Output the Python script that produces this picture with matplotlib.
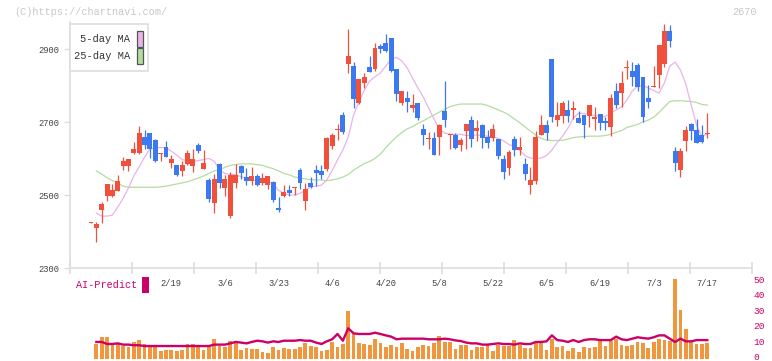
import numpy as np
import matplotlib
matplotlib.use("Agg")
import matplotlib.pyplot as plt
from matplotlib.patches import Rectangle

W, H = 772, 361

RED = "#f0503c"
BLUE = "#3c78f0"
ORANGE = "#f0963c"
MAGENTA = "#cc0066"
PINK = "#e8b4e8"
GREEN = "#b4dca0"
AXIS = "#dddddd"
LABEL = "#555555"
FAINT = "#c8c8c8"
MONO = ["Liberation Mono", "DejaVu Sans Mono"]

# ── daily candles (yen) ──────────────────────────────────────────────────
opens = [2425, 2410, 2460, 2498, 2498, 2513, 2581, 2579, 2617, 2615,
         2660, 2671, 2651, 2612, 2633, 2589, 2583, 2567, 2586, 2581,
         2638, 2573, 2542, 2480, 2586, 2521, 2443, 2535, 2580, 2549,
         2539, 2553, 2535, 2528, 2537, 2466, 2499, 2515, 2521, 2569,
         2485, 2533, 2569, 2567, 2572, 2636, 2679, 2720, 2861, 2854,
         2754, 2809, 2852, 2846, 2909, 2917, 2931, 2846, 2752, 2767,
         2740, 2753, 2682, 2655, 2657, 2660, 2731, 2666, 2665, 2638,
         2676, 2706, 2676, 2693, 2660, 2658, 2654, 2600, 2576, 2654,
         2624, 2586, 2528, 2540, 2665, 2693, 2874, 2706, 2717, 2734,
         2734, 2712, 2720, 2717, 2709, 2723, 2704, 2687, 2786, 2780,
         2849, 2841, 2857, 2824, 2767, 2796, 2830, 2861, 2950, 2621,
         2569, 2649, 2695, 2679, 2665, 2668]
highs = [2426, 2426, 2482, 2531, 2531, 2556, 2606, 2600, 2646, 2690,
         2679, 2671, 2654, 2617, 2649, 2610, 2583, 2594, 2624, 2627,
         2643, 2624, 2547, 2558, 2589, 2556, 2565, 2586, 2583, 2574,
         2578, 2558, 2562, 2553, 2540, 2495, 2528, 2528, 2522, 2574,
         2533, 2551, 2583, 2583, 2659, 2672, 2695, 2728, 2956, 2865,
         2819, 2835, 2882, 2917, 2915, 2941, 2931, 2846, 2786, 2786,
         2778, 2753, 2696, 2673, 2673, 2695, 2813, 2667, 2671, 2656,
         2695, 2717, 2706, 2695, 2679, 2695, 2654, 2610, 2624, 2662,
         2660, 2602, 2578, 2676, 2720, 2706, 2874, 2756, 2757, 2761,
         2758, 2731, 2720, 2747, 2742, 2723, 2715, 2778, 2808, 2841,
         2871, 2865, 2863, 2824, 2802, 2854, 2912, 2969, 2967, 2632,
         2630, 2690, 2698, 2709, 2693, 2725]
lows = [2425, 2373, 2425, 2485, 2494, 2513, 2569, 2567, 2612, 2613,
        2627, 2603, 2591, 2595, 2604, 2575, 2553, 2553, 2583, 2565,
        2615, 2573, 2483, 2451, 2519, 2499, 2439, 2519, 2544, 2528,
        2528, 2525, 2528, 2517, 2483, 2454, 2495, 2499, 2501, 2517,
        2460, 2520, 2525, 2545, 2567, 2626, 2652, 2668, 2834, 2740,
        2750, 2794, 2838, 2841, 2890, 2893, 2838, 2758, 2747, 2728,
        2728, 2706, 2638, 2627, 2610, 2610, 2687, 2628, 2628, 2622,
        2628, 2633, 2650, 2630, 2630, 2650, 2600, 2546, 2556, 2608,
        2610, 2542, 2504, 2531, 2665, 2652, 2701, 2690, 2698, 2701,
        2709, 2698, 2657, 2687, 2679, 2679, 2679, 2663, 2739, 2742,
        2819, 2799, 2786, 2701, 2739, 2796, 2794, 2852, 2906, 2567,
        2550, 2621, 2652, 2643, 2643, 2657]
closes = [2426, 2421, 2476, 2531, 2514, 2539, 2594, 2600, 2627, 2671,
          2638, 2627, 2594, 2617, 2606, 2600, 2556, 2583, 2617, 2600,
          2622, 2589, 2489, 2545, 2535, 2545, 2556, 2556, 2562, 2540,
          2553, 2528, 2547, 2553, 2487, 2461, 2508, 2505, 2522, 2535,
          2517, 2524, 2560, 2556, 2656, 2665, 2682, 2673, 2882, 2764,
          2819, 2824, 2838, 2904, 2901, 2895, 2841, 2777, 2786, 2756,
          2747, 2712, 2665, 2657, 2610, 2693, 2706, 2667, 2630, 2652,
          2695, 2653, 2684, 2657, 2644, 2682, 2609, 2565, 2619, 2624,
          2632, 2558, 2542, 2660, 2693, 2671, 2715, 2720, 2754, 2717,
          2739, 2698, 2693, 2747, 2715, 2698, 2698, 2767, 2747, 2808,
          2852, 2824, 2797, 2715, 2756, 2799, 2912, 2950, 2923, 2589,
          2621, 2679, 2676, 2643, 2646, 2670]

# ── moving averages (yen) ────────────────────────────────────────────────
ma5 = [np.nan, 2451, 2443, 2443, 2446, 2468, 2492, 2520, 2553, 2578,
       2605, 2627, 2630, 2631, 2630, 2621, 2610, 2598, 2594, 2593,
       2595, 2598, 2601, 2593, 2569, 2560, 2557, 2556, 2551, 2547,
       2542, 2540, 2542, 2539, 2531, 2514, 2505, 2501, 2501, 2505,
       2514, 2523, 2525, 2528, 2542, 2568, 2597, 2624, 2660, 2720,
       2756, 2788, 2813, 2825, 2835, 2854, 2873, 2878, 2868, 2849,
       2821, 2794, 2769, 2739, 2709, 2682, 2670, 2668, 2667, 2667,
       2664, 2664, 2665, 2664, 2662, 2660, 2656, 2649, 2639, 2634,
       2624, 2608, 2602, 2601, 2602, 2609, 2624, 2645, 2662, 2684,
       2712, 2725, 2724, 2721, 2719, 2715, 2716, 2725, 2734, 2742,
       2761, 2786, 2799, 2801, 2794, 2787, 2780, 2808, 2854, 2865,
       2843, 2805, 2747, 2693, 2660, 2669]
ma25 = [np.nan, 2567, 2558, 2548, 2540, 2534, 2525, 2522, 2522, 2522,
        2522, 2522, 2522, 2523, 2525, 2528, 2531, 2534, 2537, 2542,
        2547, 2553, 2560, 2567, 2569, 2577, 2582, 2584, 2586, 2586,
        2586, 2584, 2582, 2577, 2573, 2567, 2560, 2556, 2550, 2547,
        2545, 2543, 2542, 2542, 2540, 2542, 2545, 2550, 2557, 2569,
        2578, 2587, 2593, 2601, 2613, 2630, 2646, 2660, 2672, 2682,
        2688, 2697, 2704, 2712, 2720, 2728, 2735, 2743, 2747, 2750,
        2750, 2750, 2750, 2750, 2746, 2740, 2734, 2728, 2720, 2709,
        2699, 2687, 2676, 2665, 2656, 2651, 2650, 2650, 2651, 2654,
        2658, 2660, 2661, 2662, 2662, 2662, 2664, 2667, 2673, 2677,
        2686, 2690, 2694, 2701, 2706, 2714, 2727, 2742, 2757, 2759,
        2759, 2758, 2757, 2754, 2749, 2747]

# ── lower panel: volume bars and AI-Predict line (0-50 scale) ────────────
volume = [np.nan, 8.5, 12.8, 12.8, 8.5, 8.5, 7.2, 6.8, 9.8, 11.0,
          8.5, 6.8, 6.4, 4.3, 4.7, 4.7, 4.3, 4.7, 8.5, 8.5,
          6.4, 4.7, 7.2, 11.7, 7.2, 6.4, 10.6, 9.4, 4.7, 6.0,
          5.1, 5.1, 3.4, 2.6, 6.4, 4.7, 6.0, 5.5, 5.1, 6.8,
          9.4, 7.2, 6.4, 4.3, 4.7, 9.8, 6.4, 8.5, 29.6, 14.9,
          8.9, 8.5, 7.7, 11.5, 9.4, 6.4, 7.7, 6.8, 8.9, 5.1,
          4.3, 6.4, 7.7, 7.2, 8.9, 13.6, 10.0, 9.5, 5.3, 8.0,
          7.9, 4.7, 6.4, 6.4, 7.7, 4.3, 7.7, 7.2, 7.2, 11.0,
          7.7, 6.0, 6.0, 8.9, 8.9, 4.7, 11.5, 6.4, 7.2, 4.3,
          6.0, 3.4, 6.4, 6.0, 6.4, 10.2, 7.2, 10.2, 11.5, 7.7,
          7.2, 7.7, 9.8, 8.9, 6.0, 9.8, 11.5, 11.0, 10.2, 50.0,
          30.2, 18.1, 10.2, 8.5, 8.5, 8.9]
ai_predict = [np.nan, 9.8, 9.8, 8.5, 8.5, 8.9, 8.1, 8.1, 7.7, 7.7,
              7.2, 7.2, 7.2, 7.2, 7.2, 7.2, 7.2, 7.2, 7.2, 7.2,
              7.2, 7.2, 7.2, 8.1, 8.1, 8.1, 8.9, 9.8, 9.4, 8.9,
              9.8, 10.6, 10.2, 9.4, 10.2, 9.8, 10.6, 10.6, 10.6, 11.0,
              10.6, 10.6, 9.4, 8.5, 10.2, 11.5, 14.9, 10.6, 18.5, 15.3,
              14.9, 14.9, 14.9, 15.7, 14.9, 14.0, 13.2, 11.5, 11.9, 11.9,
              11.9, 11.9, 11.9, 11.5, 11.5, 11.5, 11.9, 11.5, 10.8, 10.4,
              9.4, 8.9, 8.9, 8.1, 8.1, 8.5, 8.9, 8.5, 8.5, 8.1,
              8.9, 8.5, 8.5, 9.8, 9.8, 10.2, 14.0, 11.0, 10.6, 9.8,
              11.0, 9.8, 11.0, 11.5, 11.5, 11.0, 11.0, 11.0, 13.2, 11.5,
              11.0, 11.9, 12.8, 12.3, 11.9, 12.8, 14.0, 14.0, 11.9, 9.8,
              11.9, 10.2, 10.2, 11.0, 11.0, 11.0]

date_pos = [15, 25, 35, 45, 55, 65, 75, 85, 95, 105, 115]
date_labels = ["2/19", "3/6", "3/23", "4/6", "4/20", "5/8",
               "5/22", "6/5", "6/19", "7/3", "7/17"]
price_ticks = [2300, 2500, 2700, 2900]
vol_ticks = [0, 10, 20, 30, 40, 50]
last_price = "2670"


def fx(px):
    return px / W


def fy(py):
    return 1 - py / H


fig = plt.figure(figsize=(W / 100, H / 100), dpi=100)
fig.patch.set_facecolor("white")

x = np.arange(len(closes))
o = np.array(opens, float)
c = np.array(closes, float)
colors = np.where(c >= o, RED, BLUE)
XLIM = (-3.86, 123.4)

# ── price panel ──────────────────────────────────────────────────────────
ax = fig.add_axes([fx(70.3), fy(268.3), fx(682), (268.3 - 22) / H])
ax.set_xlim(*XLIM)
ax.set_ylim(2300, 2974.8)
ax.plot(x, ma25, color=GREEN, lw=0.9, zorder=1)
ax.plot(x, ma5, color=PINK, lw=0.9, zorder=1)
ax.vlines(x, lows, highs, colors=colors, lw=0.9, zorder=2)
ax.bar(x, np.maximum(np.abs(c - o), 3), bottom=np.minimum(o, c),
       width=0.92, color=colors, linewidth=0, zorder=3)

for s in ("top", "right"):
    ax.spines[s].set_visible(False)
for s in ("left", "bottom"):
    ax.spines[s].set_color(AXIS)
    ax.spines[s].set_linewidth(1.2)
ax.set_yticks(price_ticks)
ax.set_yticklabels([str(v) for v in price_ticks], family=MONO,
                   fontsize=6.3, color="#444444")
ax.tick_params(axis="y", length=4, width=1, color=AXIS, pad=4)
ax.set_xticks(np.linspace(XLIM[0], XLIM[1], 12))
ax.set_xticklabels([])
ax.tick_params(axis="x", which="major", length=8, width=1.2,
               direction="inout", color=AXIS)
ax.set_xticks(date_pos, date_labels, minor=True)
ax.tick_params(axis="x", which="minor", length=0, pad=7.5,
               labelsize=6.3, labelcolor="#444444")
for t in ax.get_xticklabels(minor=True):
    t.set_family(MONO)
ax.set_facecolor("none")

# ── volume / AI-Predict panel ────────────────────────────────────────────
ax2 = fig.add_axes([fx(70.3), 0, fx(682), (361 - 270) / H])
ax2.set_xlim(*XLIM)
ax2.set_ylim(-2.36, 55.75)
ax2.set_facecolor("none")
vol = np.array(volume, float)
base = 1.2
ax2.bar(x, vol + base, bottom=-base, width=0.7, color=ORANGE,
        linewidth=0, zorder=1)
ax2.plot(x, ai_predict, color=MAGENTA, lw=1.7, zorder=2)
for s in ax2.spines.values():
    s.set_visible(False)
ax2.set_xticks([])
ax2.yaxis.tick_right()
ax2.set_yticks(vol_ticks[1:])
ax2.set_yticklabels([str(v) for v in vol_ticks[1:]], family=MONO,
                    fontsize=6.8, color=MAGENTA)
ax2.tick_params(axis="y", length=0, pad=1)
# the zero label sits on the bottom edge of the picture
fig.text(fx(753.3), fy(359.8), str(vol_ticks[0]), family=MONO,
         fontsize=6.8, color=MAGENTA, ha="left", va="baseline")

# ── header, legend, AI label ─────────────────────────────────────────────
fig.text(fx(14), fy(12), "(C)https://chartnavi.com/", family=MONO,
         fontsize=7.3, color=FAINT, ha="left", va="center")
fig.text(fx(757), fy(12), last_price, family=MONO, fontsize=7.3,
         color=FAINT, ha="right", va="center")

fig.patches.append(Rectangle((fx(70.3), fy(71)), fx(78), (71 - 24) / H,
                             transform=fig.transFigure, facecolor="white",
                             edgecolor=AXIS, lw=1.2, zorder=5))
for label, col, yc in (("5-day MA", PINK, 39), ("25-day MA", GREEN, 56)):
    fig.text(fx(130), fy(yc), label, family=MONO, fontsize=7.5,
             color="#333333", ha="right", va="center", zorder=6)
    fig.patches.append(Rectangle((fx(136.5), fy(yc + 7.5)), fx(6), 15 / H,
                                 transform=fig.transFigure, facecolor=col,
                                 edgecolor="#555555", lw=0.9, zorder=6))

fig.text(fx(75.5), fy(285.5), "AI-Predict", family=MONO, fontsize=7.3,
         color=MAGENTA, ha="left", va="center")
fig.patches.append(Rectangle((fx(141.7), fy(292.7)), fx(7.3), 16 / H,
                             transform=fig.transFigure, facecolor=MAGENTA,
                             edgecolor="none"))

fig.savefig("out.png", dpi=100, facecolor="white")
